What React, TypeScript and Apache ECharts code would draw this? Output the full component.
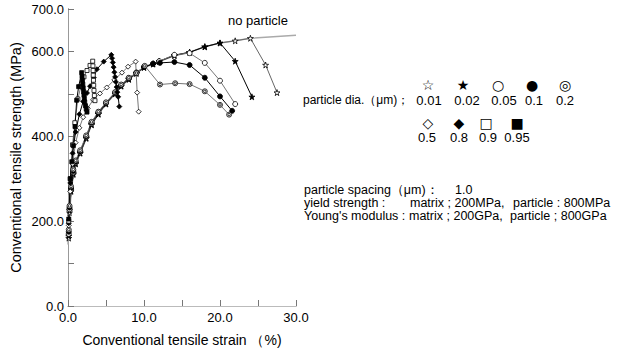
import React, { useEffect, useRef } from "react";
import * as echarts from "echarts";

// ---- data (strain %, stress MPa) ----
const noParticle = [[0, 145], [0.2, 220], [0.5, 285], [1.0, 335], [1.6, 360], [2.4, 395], [3.1, 427], [3.9, 450], [5, 476], [6.2, 500], [7, 518], [8, 534], [9, 548], [10, 562], [11.2, 570], [12, 576], [14, 590], [16, 598], [18, 611], [20, 620], [22, 625], [24, 631], [30, 638]];
const p001 = [[0.1, 160], [0.2, 220], [0.4, 270], [0.7, 310], [1.0, 335], [1.6, 360], [2.4, 395], [3.1, 427], [4, 452], [5, 476], [6.2, 500], [7, 518], [8, 534], [9, 548], [10, 562], [11.2, 570], [12, 576], [14, 590], [16, 598], [18, 611], [20, 620], [22, 625], [24, 631], [26, 568], [27.5, 503]];
const p002 = [[0.1, 165], [0.2, 225], [0.4, 272], [0.7, 312], [1.0, 336], [1.6, 361], [2.4, 396], [3.1, 428], [4, 453], [5, 477], [6.2, 501], [7, 519], [8, 535], [9, 549], [10, 563], [11.2, 571], [12, 577], [14, 591], [16, 598], [18, 611], [20, 620], [22, 577], [24.2, 493]];
const p005 = [[0.1, 170], [0.2, 228], [0.4, 275], [0.7, 315], [1.0, 338], [1.6, 362], [2.4, 398], [3.1, 430], [4, 455], [5, 478], [6.2, 502], [7, 520], [8, 536], [9, 550], [10, 564], [11.2, 571], [12, 577], [14, 592], [16, 596], [18, 573], [20, 531], [22, 476]];
const p01 = [[0.1, 175], [0.2, 232], [0.4, 278], [0.7, 318], [1.0, 340], [1.6, 364], [2.4, 400], [3.1, 432], [4, 456], [5, 479], [6.2, 503], [7, 521], [8, 537], [9, 550], [10, 563], [11.2, 571], [12.1, 573], [14, 575], [16, 568], [18, 538], [20, 494], [21.6, 460]];
const p02 = [[0.1, 180], [0.2, 236], [0.4, 282], [0.7, 322], [1.0, 343], [1.6, 367], [2.4, 402], [3.1, 434], [4, 458], [5, 480], [6.2, 504], [7, 522], [8, 538], [9, 549], [10.1, 566], [12.1, 522], [14.1, 525], [16, 523], [18, 506], [20, 474], [21.2, 451]];
const p05 = [[0.1, 190], [0.3, 270], [0.6, 335], [1.0, 385], [1.5, 420], [2.0, 445], [2.6, 466], [3.3, 486], [4.2, 501], [5.1, 515], [6.1, 533], [7.1, 550], [7.9, 564], [8.9, 576], [9.1, 503], [9.3, 458]];
const p08 = [[0.1, 195], [0.3, 290], [0.6, 360], [1.0, 410], [1.5, 452], [2.0, 482], [2.5, 502], [2.9, 518], [3.4, 538], [3.8, 558], [4.7, 576], [5.7, 592], [5.8, 584], [5.9, 574], [6.0, 563], [6.1, 551], [6.2, 540], [6.3, 528], [6.4, 516], [6.5, 504], [6.6, 493], [6.75, 470]];
const p09 = [[0.1, 200], [0.3, 300], [0.6, 380], [0.9, 432], [1.3, 488], [1.7, 518], [2.1, 540], [2.5, 555], [2.9, 567], [3.25, 577], [3.28, 566], [3.3, 555], [3.32, 544], [3.35, 532], [3.38, 520], [3.42, 508], [3.47, 496], [3.55, 484]];
const p095 = [[0.1, 205], [0.3, 300], [0.5, 340], [0.7, 378], [0.92, 423], [1.14, 485], [1.4, 517], [1.8, 550], [1.85, 541], [1.9, 532], [1.95, 523], [2.0, 514], [2.05, 505], [2.1, 497], [2.15, 489], [2.2, 481], [2.3, 472], [2.4, 464], [2.5, 457]];

const xTicks = [0, 10, 20, 30];
const yTickLabels = [0, 200, 400, 600, 700];
const diaLabelsRow1 = ["0.01", "0.02", "0.05", "0.1", "0.2"];
const diaSymbolsRow1 = ["☆", "★", "○", "●", "◎"];
const diaLabelsRow2 = ["0.5", "0.8", "0.9", "0.95"];
const diaSymbolsRow2 = ["◇", "◆", "□", "■"];

const STAR = "path://M50,0 L61,35 L98,35 L68,57 L79,91 L50,70 L21,91 L32,57 L2,35 L39,35 Z";
const DCIRC = "path://M0,10 A10,10 0 1 1 20,10 A10,10 0 1 1 0,10 Z M5,10 A5,5 0 1 1 15,10 A5,5 0 1 1 5,10 Z";

export default function App() {
  const ref = useRef<HTMLDivElement>(null);
  useEffect(() => {
    const chart = echarts.init(ref.current!, null, { renderer: "svg" });
    const mk = (data: number[][], symbol: string, filled: boolean, lineColor: string, size = 5) => ({
      type: "line",
      data,
      symbol,
      symbolSize: size,
      showAllSymbol: true,
      lineStyle: { color: lineColor, width: 1 },
      itemStyle: { color: filled ? "#000" : "#fff", borderColor: "#000", borderWidth: 0.8 },
      z: 3,
    });
    const font = "Liberation Sans";
    const t = (text: string, x: number, y: number, size = 12.5, align = "left") => ({
      type: "text",
      x,
      y,
      style: { text, font: `${size}px '${font}'`, fill: "#000", align, verticalAlign: "middle" },
    });
    const sym = (text: string, x: number, y: number) => ({
      type: "text",
      x,
      y,
      style: { text, font: "14px 'DejaVu Sans'", fill: "#000", align: "center", verticalAlign: "middle" },
    });
    const cx1 = [428, 463, 498, 532, 565];
    const nx1 = [429, 467, 504, 534, 565];
    const cx2 = [428, 459, 486, 517];
    const nx2 = [427, 459, 488, 517];
    const graphics: any[] = [
      t("no particle", 228, 20, 13),
      t("particle dia.（μm)；", 303, 100, 12),
      ...diaSymbolsRow1.map((s, i) => sym(s, cx1[i], 85)),
      ...diaLabelsRow1.map((s, i) => t(s, nx1[i], 100, 13, "center")),
      ...diaSymbolsRow2.map((s, i) => sym(s, cx2[i], 123)),
      ...diaLabelsRow2.map((s, i) => t(s, nx2[i], 137, 13, "center")),
      t("particle spacing（μm)：", 304, 190),
      t("1.0", 455, 190),
      t("yield strength :", 304, 203),
      t("matrix ; 200MPa,", 410, 203),
      t("particle : 800MPa", 513, 203),
      t("Young's modulus :", 304, 216),
      t("matrix ; 200GPa,", 409, 216),
      t("particle ; 800GPa", 510, 216),
    ];
    // tick-only axes moved 3px into the plot so that outward ticks end at the frame
    const tickX = (position: string) => ({
      type: "value", min: 0, max: 30, interval: 5, position, offset: -3,
      axisLine: { show: false },
      axisTick: { show: true, length: 3, lineStyle: { color: "#777" } },
      axisLabel: { show: false }, splitLine: { show: false },
    });
    const tickY = (position: string) => ({
      type: "value", min: 0, max: 700, interval: 100, position, offset: -3,
      axisLine: { show: false },
      axisTick: { show: true, length: 3, lineStyle: { color: "#777" } },
      axisLabel: { show: false }, splitLine: { show: false },
    });
    chart.setOption({
      animation: false,
      backgroundColor: "#fff",
      grid: { left: 68, right: 322, top: 9, bottom: 47 },
      xAxis: [
        {
          type: "value", min: 0, max: 30, interval: 5, position: "bottom",
          name: "Conventional tensile strain （%)", nameLocation: "middle", nameGap: 27,
          nameTextStyle: { fontFamily: font, fontSize: 14, color: "#000" },
          axisLine: { lineStyle: { color: "#999" } },
          axisTick: { show: false },
          axisLabel: { fontFamily: font, fontSize: 13, color: "#000", margin: 5, formatter: (v: number) => (xTicks.includes(v) ? v.toFixed(1) : "") },
          splitLine: { show: false },
        },
        {
          type: "value", min: 0, max: 30, interval: 5, position: "top",
          axisLine: { show: true, lineStyle: { color: "#bbb" } },
          axisTick: { show: false },
          axisLabel: { show: false }, splitLine: { show: false },
        },
        tickX("bottom"),
        tickX("top"),
      ],
      yAxis: [
        {
          type: "value", min: 0, max: 700, interval: 100, position: "left",
          name: "Conventional tensile strength (MPa)", nameLocation: "middle", nameGap: 45,
          nameTextStyle: { fontFamily: font, fontSize: 14.5, color: "#000" },
          axisLine: { show: true, lineStyle: { color: "#555" } },
          axisTick: { show: false },
          axisLabel: { fontFamily: font, fontSize: 13, color: "#000", margin: 4, formatter: (v: number) => (yTickLabels.includes(v) ? v.toFixed(1) : "") },
          splitLine: { show: false },
        },
        {
          type: "value", min: 0, max: 700, interval: 100, position: "right",
          axisLine: { show: true, lineStyle: { color: "#999" } },
          axisTick: { show: false },
          axisLabel: { show: false }, splitLine: { show: false },
        },
        tickY("left"),
        tickY("right"),
      ],
      series: [
        { type: "line", data: noParticle, symbol: "none", lineStyle: { color: "#aaa", width: 1.5 }, z: 2 },
        mk(p001, STAR, false, "#666", 6),
        mk(p002, STAR, true, "#000", 6),
        mk(p005, "circle", false, "#777", 5),
        mk(p01, "circle", true, "#000", 5),
        mk(p02, DCIRC, false, "#777", 5),
        mk(p05, "diamond", false, "#777", 5),
        mk(p08, "diamond", true, "#000", 5),
        mk(p09, "rect", false, "#777", 4),
        mk(p095, "rect", true, "#000", 4),
      ],
      graphic: graphics,
    });
    return () => chart.dispose();
  }, []);
  return <div ref={ref} style={{ position: "fixed", left: 0, top: 0, width: 618, height: 353 }} />;
}
